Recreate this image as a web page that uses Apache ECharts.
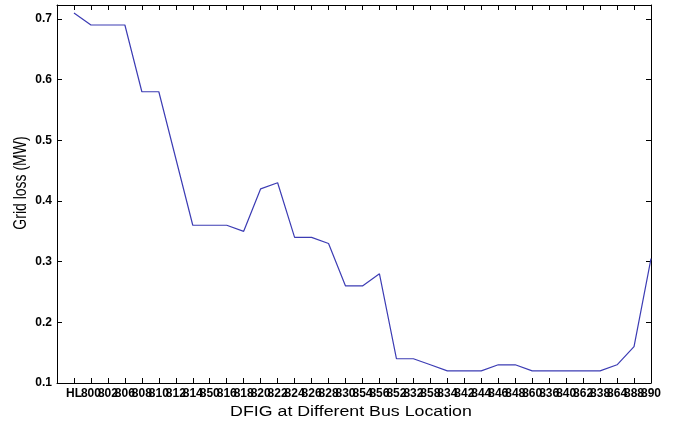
<!DOCTYPE html>
<html>
<head>
<meta charset="utf-8">
<script src="https://cdn.jsdelivr.net/npm/echarts@6/dist/echarts.min.js"></script>
<style>
  html, body { margin: 0; padding: 0; background: #fff; }
  #chart { width: 684px; height: 423px; }
</style>
</head>
<body>
<div id="chart"></div>
<script>
// Bus locations where the DFIG is connected (HL = no DFIG / base case)
const busLabels = ['HL','800','802','806','808','810','812','814','850','816','818','820','822','824','826','828','830','854','856','852','832','858','834','842','844','846','848','860','836','840','862','838','864','888','890'];

// Grid loss in MW for each bus location
const gridLoss = [0.71,0.69,0.69,0.69,0.58,0.58,0.47,0.36,0.36,0.36,0.35,0.42,0.43,0.34,0.34,0.33,0.26,0.26,0.28,0.14,0.14,0.13,0.12,0.12,0.12,0.13,0.13,0.12,0.12,0.12,0.12,0.12,0.13,0.16,0.305];

// Y-axis tick values
const yTicks = [0.1,0.2,0.3,0.4,0.5,0.6,0.7];

// Slot 0 is the empty left edge of the axis; buses occupy slots 1..N
const xSlots = [''].concat(busLabels);
const seriesData = gridLoss.map((v, i) => [i + 1, v]);

const chart = echarts.init(document.getElementById('chart'), null, { renderer: 'canvas' });

const axisLineStyle = { color: '#000', width: 1 };
const tickFont = { color: '#000', fontFamily: 'Liberation Sans, Arial, sans-serif', fontWeight: 'bold', fontSize: 12 };

function xAxisDef(position, showLabels) {
  return {
    type: 'category', position: position, data: xSlots, boundaryGap: false,
    axisLine: { show: true, onZero: false, lineStyle: axisLineStyle },
    axisTick: { show: true, inside: true, length: 5, interval: 0, alignWithLabel: true, lineStyle: axisLineStyle },
    splitLine: { show: false },
    axisLabel: showLabels ? Object.assign({ margin: 5, interval: 0, hideOverlap: false }, tickFont) : { show: false }
  };
}

function yAxisDef(position, showLabels) {
  return {
    type: 'value', position: position, min: 0.1, max: 0.723, interval: 0.1,
    axisLine: { show: true, onZero: false, lineStyle: axisLineStyle },
    axisTick: { show: true, inside: true, length: 5, lineStyle: axisLineStyle },
    splitLine: { show: false },
    axisLabel: showLabels ? Object.assign({
      margin: 5,
      formatter: v => {
        const t = yTicks.find(y => Math.abs(y - v) < 1e-6);
        return t === undefined ? '' : t.toFixed(1);
      }
    }, tickFont) : { show: false }
  };
}

chart.setOption({
  animation: false,
  backgroundColor: '#fff',
  grid: { left: 57, right: 33, top: 5, bottom: 40, containLabel: false },
  xAxis: [xAxisDef('bottom', true), xAxisDef('top', false)],
  yAxis: [yAxisDef('left', true), yAxisDef('right', false)],
  graphic: [
    {
      type: 'text', x: 351, y: 412, scaleX: 1.27,
      style: {
        text: 'DFIG at Different Bus Location',
        font: '14px "Liberation Sans", Arial, sans-serif',
        fill: '#000', textAlign: 'center', textVerticalAlign: 'middle'
      }
    },
    {
      type: 'text', x: 21, y: 183, rotation: Math.PI / 2, scaleY: 1.3,
      style: {
        text: 'Grid loss (MW)',
        font: '14px "Liberation Sans", Arial, sans-serif',
        fill: '#000', textAlign: 'center', textVerticalAlign: 'middle'
      }
    }
  ],
  series: [
    {
      type: 'line', xAxisIndex: 0, yAxisIndex: 0,
      data: seriesData,
      showSymbol: false, symbol: 'none',
      lineStyle: { color: '#3c3cb4', width: 1.2 },
      silent: true
    }
  ]
});
</script>
</body>
</html>
